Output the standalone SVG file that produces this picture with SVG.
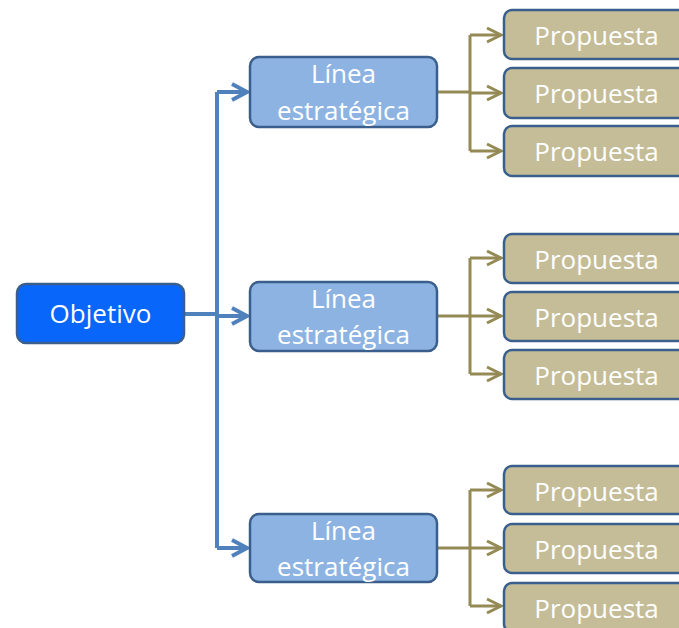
<svg xmlns="http://www.w3.org/2000/svg" width="679" height="628" viewBox="0 0 679 628">
<defs>
<style>
.obj{fill:#0866FA;stroke:#3A5F8C;stroke-width:2.5}
.lin{fill:#8DB3E2;stroke:#3A5F8C;stroke-width:2.5}
.pro{fill:#C4BD97;stroke:#3A5F8C;stroke-width:2.5}
text{font-family:"Open Sans","Liberation Sans",sans-serif;font-size:26px;fill:#FFFFFF;text-anchor:middle}
.bc{fill:none;stroke:#4F81BD;stroke-width:4}
.oc{fill:none;stroke:#948A54;stroke-width:3}
</style>
<marker id="ab" markerUnits="userSpaceOnUse" markerWidth="20" markerHeight="20" viewBox="-2 -2 20 20" refX="15" refY="8" orient="auto" overflow="visible">
<path d="M0,0 L15,8 L0,16" fill="none" stroke="#4F81BD" stroke-width="4" stroke-linejoin="miter"/>
</marker>
<marker id="ao" markerUnits="userSpaceOnUse" markerWidth="20" markerHeight="20" viewBox="-2 -2 20 20" refX="14" refY="7" orient="auto" overflow="visible">
<path d="M0,0 L14,7 L0,14" fill="none" stroke="#948A54" stroke-width="3"/>
</marker>
</defs>
<rect width="679" height="628" fill="#FFFFFF"/>
<g id="connectors">
<path class="bc" d="M184,314 H217" stroke-width="5"/>
<path class="bc" d="M217,92 V548"/>
<path class="bc" d="M217,92 H247" marker-end="url(#ab)"/>
<path class="bc" d="M217,316 H247" marker-end="url(#ab)"/>
<path class="bc" d="M217,548 H247" marker-end="url(#ab)"/>
<path class="oc" d="M438,92 H470"/>
<path class="oc" d="M470,35 V151"/>
<path class="oc" d="M470,35 H501" marker-end="url(#ao)"/>
<path class="oc" d="M470,93 H501" marker-end="url(#ao)"/>
<path class="oc" d="M470,151 H501" marker-end="url(#ao)"/>
<path class="oc" d="M438,316 H470"/>
<path class="oc" d="M470,258 V374"/>
<path class="oc" d="M470,258 H501" marker-end="url(#ao)"/>
<path class="oc" d="M470,316 H501" marker-end="url(#ao)"/>
<path class="oc" d="M470,374 H501" marker-end="url(#ao)"/>
<path class="oc" d="M438,548 H470"/>
<path class="oc" d="M470,490 V606"/>
<path class="oc" d="M470,490 H501" marker-end="url(#ao)"/>
<path class="oc" d="M470,548 H501" marker-end="url(#ao)"/>
<path class="oc" d="M470,606 H501" marker-end="url(#ao)"/>
</g>
<g id="objetivo"><rect class="obj" x="17" y="284" width="167" height="59" rx="9"/><text x="100.5" y="323">Objetivo</text></g>
<g id="linea1"><rect class="lin" x="250" y="57" width="187" height="70" rx="9"/><text x="343.5" y="83">Línea</text><text x="343.5" y="120">estratégica</text></g>
<g id="linea2"><rect class="lin" x="250" y="282" width="187" height="69" rx="9"/><text x="343.5" y="308">Línea</text><text x="343.5" y="344">estratégica</text></g>
<g id="linea3"><rect class="lin" x="250" y="514" width="187" height="68" rx="9"/><text x="343.5" y="540">Línea</text><text x="343.5" y="576">estratégica</text></g>
<g id="p1a"><rect class="pro" x="504" y="10" width="200" height="49" rx="8"/><text x="596.5" y="45">Propuesta</text></g>
<g id="p1b"><rect class="pro" x="504" y="68" width="200" height="50" rx="8"/><text x="596.5" y="103">Propuesta</text></g>
<g id="p1c"><rect class="pro" x="504" y="126" width="200" height="50" rx="8"/><text x="596.5" y="161">Propuesta</text></g>
<g id="p2a"><rect class="pro" x="504" y="234" width="200" height="49" rx="8"/><text x="596.5" y="269">Propuesta</text></g>
<g id="p2b"><rect class="pro" x="504" y="292" width="200" height="49" rx="8"/><text x="596.5" y="327">Propuesta</text></g>
<g id="p2c"><rect class="pro" x="504" y="350" width="200" height="49" rx="8"/><text x="596.5" y="385">Propuesta</text></g>
<g id="p3a"><rect class="pro" x="504" y="466" width="200" height="48" rx="8"/><text x="596.5" y="501">Propuesta</text></g>
<g id="p3b"><rect class="pro" x="504" y="524" width="200" height="49" rx="8"/><text x="596.5" y="559">Propuesta</text></g>
<g id="p3c"><rect class="pro" x="504" y="583" width="200" height="49" rx="8"/><text x="596.5" y="618">Propuesta</text></g>
</svg>
